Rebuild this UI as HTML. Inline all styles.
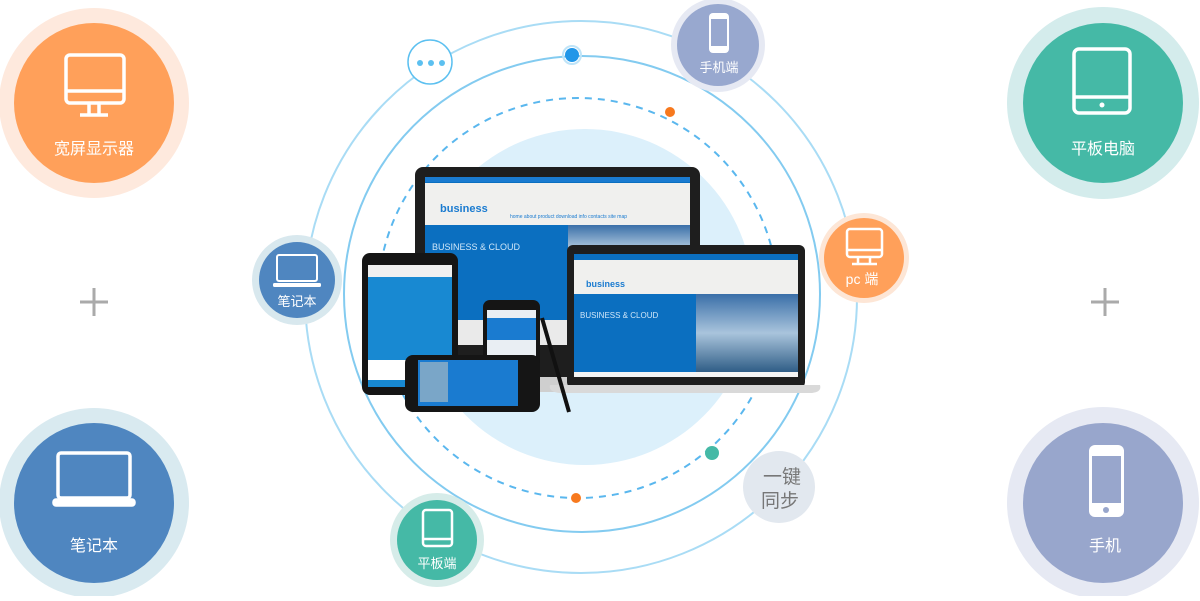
<!DOCTYPE html>
<html><head><meta charset="utf-8"><style>
body{margin:0;width:1200px;height:596px;overflow:hidden;background:#fff;font-family:"Liberation Sans","Noto Sans CJK SC",sans-serif}
</style></head><body>
<svg width="1200" height="596" viewBox="0 0 1200 596" xmlns="http://www.w3.org/2000/svg" font-family="Liberation Sans, Noto Sans CJK SC, sans-serif">
<defs>
<linearGradient id="sky" x1="0" y1="0" x2="0" y2="1"><stop offset="0" stop-color="#3a6fa8"/><stop offset=".5" stop-color="#a9c4dc"/><stop offset="1" stop-color="#2f5d86"/></linearGradient>
</defs>
<circle cx="94" cy="103" r="95" fill="#fee9dd"/><circle cx="94" cy="103" r="80" fill="#ffa05a"/>
<g fill="none" stroke="#fff" stroke-width="3.5"><rect x="66" y="55" width="58" height="48" rx="4"/><line x1="66" y1="91" x2="124" y2="91"/><line x1="89" y1="103" x2="89" y2="115"/><line x1="99" y1="103" x2="99" y2="115"/><line x1="80" y1="115" x2="108" y2="115"/></g>
<text x="94" y="154" fill="#fff" font-size="16" text-anchor="middle">宽屏显示器</text>

<circle cx="94" cy="503" r="95" fill="#d9eaf0"/><circle cx="94" cy="503" r="80" fill="#4f86c0"/>
<g fill="none" stroke="#fff" stroke-width="3.5"><rect x="58" y="453" width="72" height="45" rx="3"/><rect x="54" y="500" width="80" height="5" rx="2" fill="#fff"/></g>
<text x="94" y="551" fill="#fff" font-size="16" text-anchor="middle">笔记本</text>

<circle cx="1103" cy="103" r="96" fill="#d4ecec"/><circle cx="1103" cy="103" r="80" fill="#45b9a6"/>
<g fill="none" stroke="#fff" stroke-width="3.5"><rect x="1074" y="49" width="56" height="64" rx="5"/><line x1="1074" y1="97" x2="1130" y2="97"/></g><circle cx="1102" cy="105" r="2.5" fill="#fff"/>
<text x="1103" y="154" fill="#fff" font-size="16" text-anchor="middle">平板电脑</text>

<circle cx="1103" cy="503" r="96" fill="#e6e9f3"/><circle cx="1103" cy="503" r="80" fill="#98a6cc"/>
<rect x="1089" y="445" width="35" height="72" rx="6" fill="#fff"/><rect x="1092" y="456" width="29" height="47" fill="#98a6cc"/><circle cx="1106" cy="510" r="3" fill="#98a6cc"/>
<text x="1105" y="551" fill="#fff" font-size="16" text-anchor="middle">手机</text>

<g stroke="#aaa" stroke-width="3"><line x1="80" y1="302" x2="108" y2="302"/><line x1="94" y1="288" x2="94" y2="316"/><line x1="1091" y1="302" x2="1119" y2="302"/><line x1="1105" y1="288" x2="1105" y2="316"/></g>

<circle cx="585" cy="297" r="168" fill="#dcf0fb"/>
<circle cx="581" cy="297" r="276" fill="none" stroke="#a9dcf5" stroke-width="2"/>
<circle cx="582" cy="294" r="238" fill="none" stroke="#83cbf0" stroke-width="2"/>
<circle cx="578" cy="298" r="200" fill="none" stroke="#5ab7ee" stroke-width="2" stroke-dasharray="7 6"/>
<circle cx="572" cy="55" r="7" fill="#2196e8"/><circle cx="572" cy="55" r="9" fill="none" stroke="#bfe4f8" stroke-width="2"/>
<circle cx="670" cy="112" r="5" fill="#f7791e"/>
<circle cx="576" cy="498" r="5" fill="#f7791e"/>
<circle cx="712" cy="453" r="7" fill="#45b9a6"/>

<rect x="415" y="167" width="285" height="210" rx="8" fill="#1e1e1e"/>
<rect x="425" y="177" width="265" height="143" fill="#0b6fc0"/>
<rect x="425" y="177" width="265" height="5" fill="#1a7bd0"/>
<rect x="425" y="183" width="265" height="42" fill="#f0f0ee"/>
<text x="440" y="212" fill="#1a7bd0" font-size="11" font-weight="bold">business</text>
<text x="510" y="218" fill="#1a7bd0" font-size="5">home  about  product  download  info  contacts  site map</text>
<rect x="568" y="225" width="122" height="45" fill="url(#sky)"/>
<text x="432" y="250" fill="#cfe6f8" font-size="9">BUSINESS &amp; CLOUD</text>
<rect x="425" y="320" width="265" height="25" fill="#eaeaea"/>
<rect x="540" y="377" width="45" height="15" fill="#cfcfcf"/>

<rect x="567" y="245" width="238" height="143" rx="6" fill="#1e1e1e"/>
<rect x="574" y="254" width="224" height="122" fill="#0b6fc0"/>
<rect x="574" y="260" width="224" height="34" fill="#f0f0ee"/>
<text x="586" y="287" fill="#1a7bd0" font-size="9" font-weight="bold">business</text>
<rect x="696" y="294" width="102" height="78" fill="url(#sky)"/>
<text x="580" y="318" fill="#cfe6f8" font-size="8">BUSINESS &amp; CLOUD</text>
<rect x="574" y="372" width="224" height="5" fill="#f4f4f4"/>
<path d="M550 385 H820 Q822 392 812 393 H560 Q548 392 550 385 Z" fill="#d9d9d9"/>

<rect x="362" y="253" width="96" height="142" rx="8" fill="#151515"/>
<rect x="368" y="265" width="84" height="122" fill="#1889d2"/>
<rect x="368" y="265" width="84" height="12" fill="#f0f0f0"/>
<rect x="368" y="360" width="84" height="20" fill="#fff"/>

<line x1="542" y1="318" x2="569" y2="412" stroke="#111" stroke-width="4"/>
<rect x="483" y="300" width="57" height="90" rx="7" fill="#151515"/>
<rect x="487" y="310" width="49" height="70" fill="#e9eef3"/>
<rect x="487" y="318" width="49" height="22" fill="#1a7bd0"/>

<rect x="405" y="355" width="135" height="57" rx="8" fill="#151515"/>
<rect x="418" y="360" width="100" height="46" fill="#1a7bd0"/>
<rect x="420" y="362" width="28" height="40" fill="#7aa6c8"/>

<circle cx="430" cy="62" r="22" fill="#fff" stroke="#5cc0f0" stroke-width="1.5"/>
<g fill="#5cc0f0"><circle cx="420" cy="63" r="3"/><circle cx="431" cy="63" r="3"/><circle cx="442" cy="63" r="3"/></g>

<circle cx="718" cy="45" r="47" fill="#e6e9f3"/><circle cx="718" cy="45" r="41" fill="#98a8cf"/>
<rect x="709" y="13" width="20" height="40" rx="4" fill="#fff"/><rect x="711" y="19" width="16" height="27" fill="#98a8cf"/>
<text x="719" y="72" fill="#fff" font-size="13" text-anchor="middle">手机端</text>

<circle cx="864" cy="258" r="45" fill="#fde6d6"/><circle cx="864" cy="258" r="40" fill="#ffa05a"/>
<g fill="none" stroke="#fff" stroke-width="2.5"><rect x="847" y="229" width="35" height="28" rx="3"/><line x1="847" y1="250" x2="882" y2="250"/><line x1="858" y1="257" x2="858" y2="264"/><line x1="870" y1="257" x2="870" y2="264"/><line x1="852" y1="264" x2="877" y2="264"/></g>
<text x="862" y="284" fill="#fff" font-size="14" text-anchor="middle">pc 端</text>

<circle cx="297" cy="280" r="45" fill="#d8e8ee"/><circle cx="297" cy="280" r="38" fill="#4f86c0"/>
<g fill="none" stroke="#fff" stroke-width="2"><rect x="277" y="255" width="40" height="26" rx="2"/></g><rect x="273" y="283" width="48" height="4" rx="1.5" fill="#fff"/>
<text x="297" y="306" fill="#fff" font-size="13" text-anchor="middle">笔记本</text>

<circle cx="437" cy="540" r="47" fill="#d6ece9"/><circle cx="437" cy="540" r="40" fill="#45b9a6"/>
<g fill="none" stroke="#fff" stroke-width="2.5"><rect x="423" y="510" width="29" height="36" rx="3"/><line x1="423" y1="539" x2="452" y2="539"/></g>
<text x="437" y="568" fill="#fff" font-size="13" text-anchor="middle">平板端</text>

<circle cx="779" cy="487" r="36" fill="#e2e8ef"/>
<text x="782" y="483" fill="#777" font-size="19" text-anchor="middle">一键</text>
<text x="780" y="507" fill="#777" font-size="19" text-anchor="middle">同步</text>
</svg>
</body></html>
